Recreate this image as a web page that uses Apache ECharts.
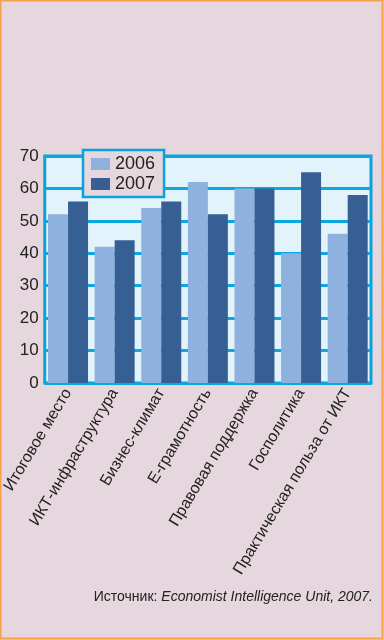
<!DOCTYPE html>
<html><head><meta charset="utf-8">
<script src="https://cdn.jsdelivr.net/npm/echarts@6/dist/echarts.min.js"></script>
<style>html,body{margin:0;padding:0;background:#e6d6de;}#c{width:384px;height:640px;}</style>
</head><body><div id="c"></div>
<script>
var categories = ['Итоговое место','ИКТ-инфраструктура','Бизнес-климат','Е-грамотность','Правовая поддержка','Госполитика','Практическая польза от ИКТ'];
var values2006 = [52, 42, 54, 62, 60, 40, 46];
var values2007 = [56, 44, 56, 52, 60, 65, 58];
var seriesNames = ['2006', '2007'];
var sourceLabel = 'Источник: ';
var sourceItalic = 'Economist Intelligence Unit, 2007.';

var FONT = '"Liberation Sans Narrow", "Liberation Sans", Arial, sans-serif';
var chart = echarts.init(document.getElementById('c'), null, {renderer: 'canvas'});
chart.setOption({
  backgroundColor: '#e6d6de',
  animation: false,
  textStyle: {fontFamily: FONT},
  grid: {left: 40, top: 156, right: 13, bottom: 257, show: true, backgroundColor: '#e2f3fc', borderColor: '#0aa2da', borderWidth: 3},
  legend: {
    orient: 'vertical', left: 83, top: 150, padding: [5, 9, 4, 8],
    backgroundColor: '#e6d6de', borderColor: '#0aa2da', borderWidth: 2.5,
    itemWidth: 19, itemHeight: 12, itemGap: 2, icon: 'rect',
    textStyle: {fontSize: 18, lineHeight: 17, color: '#222', fontFamily: FONT},
    data: seriesNames
  },
  xAxis: {
    type: 'category', data: categories,
    axisLine: {show: false}, axisTick: {show: false},
    axisLabel: {rotate: 59, fontSize: 16, color: '#222', margin: 7, padding: [12, 0, 0, 0], interval: 0, fontFamily: FONT}
  },
  yAxis: {
    type: 'value', min: 0, max: 70, interval: 10,
    axisLine: {show: false}, axisTick: {show: false},
    axisLabel: {fontSize: 17, color: '#222', margin: 6, fontFamily: FONT},
    splitLine: {lineStyle: {color: '#0aa8e2', width: 3}}
  },
  series: [
    {name: seriesNames[0], type: 'bar', data: values2006, barWidth: 20, barGap: '0%', itemStyle: {color: '#8fb1dd'}},
    {name: seriesNames[1], type: 'bar', data: values2007, barWidth: 20, barGap: '0%', itemStyle: {color: '#365f94'}}
  ],
  graphic: [
    {type: 'rect', shape: {x: 0.5, y: 0.5, width: 382, height: 638}, style: {fill: 'none', stroke: '#f5a24a', lineWidth: 2}, silent: true},
    {type: 'text', right: 11, top: 590, style: {
      text: '{n|' + sourceLabel + '}{i|' + sourceItalic + '}',
      rich: {n: {fontSize: 14, fill: '#222', fontFamily: FONT}, i: {fontSize: 14, fill: '#222', fontStyle: 'italic', fontFamily: FONT}}
    }}
  ]
});
</script></body></html>
